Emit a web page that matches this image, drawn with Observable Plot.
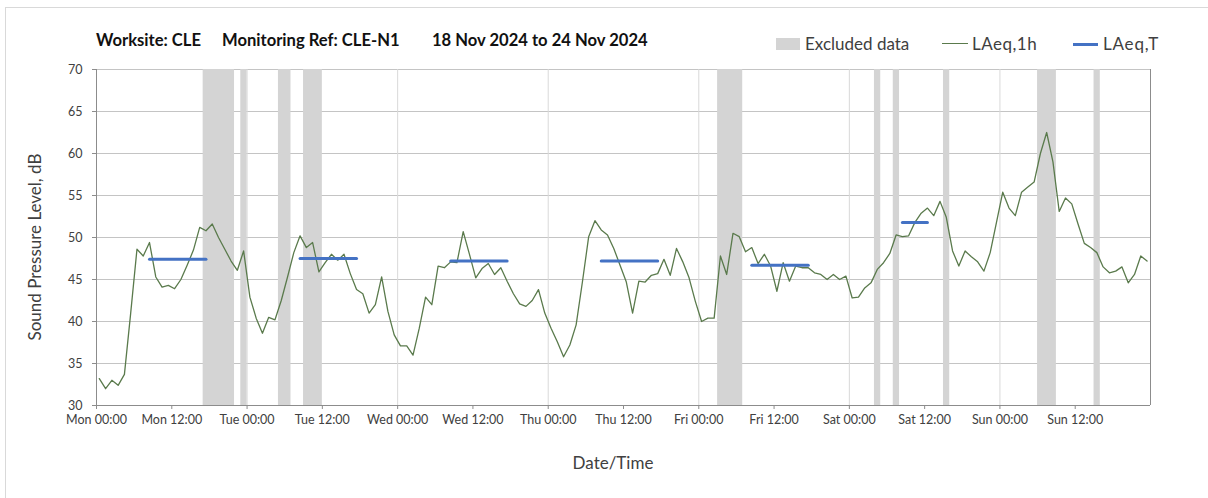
<!DOCTYPE html>
<html>
<head>
<meta charset="utf-8">
<script src="https://cdn.jsdelivr.net/npm/d3@7"></script>
<script src="https://cdn.jsdelivr.net/npm/@observablehq/plot@0.6"></script>
<style>
  body { margin: 0; background: #fff; font-family: Lato, "Open Sans", sans-serif; }
  #wrap { position: relative; width: 1208px; height: 498px; overflow: hidden; background: #fff; }
  #chart { position: absolute; left: 0; top: 0; }
  .abs { position: absolute; white-space: nowrap; color: #404040; }
  .title { font-weight: bold; font-size: 16.6px; line-height: 20px; top: 30px; color: #111; }
  .leg { font-size: 17px; line-height: 20px; top: 34px; }
  #frame { position: absolute; left: 5px; top: 7px; width: 1300px; height: 600px;
           border-left: 1px solid #d9d9d9; border-top: 1px solid #d9d9d9; pointer-events: none; z-index: 5; }
</style>
</head>
<body>
<div id="wrap">
  <div id="chart"></div>
  <div id="frame"></div>
  <div class="abs title" style="left:96px">Worksite: CLE</div>
  <div class="abs title" style="left:222px">Monitoring Ref: CLE-N1</div>
  <div class="abs title" style="left:432px">18 Nov 2024 to 24 Nov 2024</div>

  <div class="abs" style="left:776px;top:38px;width:24px;height:12px;background:#d4d4d4"></div>
  <div class="abs leg" style="left:805px">Excluded data</div>
  <div class="abs" style="left:942px;top:43px;width:26px;height:0;border-top:1.3px solid #5a7a4c"></div>
  <div class="abs leg" style="left:972px;letter-spacing:0.5px">LAeq,1h</div>
  <div class="abs" style="left:1073px;top:42.5px;width:25px;height:3px;background:#4472c4"></div>
  <div class="abs leg" style="left:1103px;letter-spacing:0.8px">LAeq,T</div>

  <div class="abs" style="left:0;top:453px;width:1226px;text-align:center;font-size:17px;line-height:20px">Date/Time</div>
  <div class="abs" style="left:35px;top:247px;font-size:17px;line-height:20px;transform:translate(-50%,-50%) rotate(-90deg)">Sound Pressure Level, dB</div>
</div>
<script>
// ---- data ----
const startTime = "2024-11-18T00:00:00Z";
const endTime = "2024-11-25T00:00:00Z";
const sampleOffsetMinutes = 27; // hourly points plotted inside each hour

// LAeq,1h values, one per hour from Mon 18 Nov 00:00
const laeq1h = [
  33.2, 32.0, 33.0, 32.4, 33.7, 41.0, 48.6, 47.8, 49.4, 45.3, 44.1, 44.3,
  43.9, 45.0, 46.7, 48.5, 51.2, 50.8, 51.6, 50.0, 48.6, 47.2, 46.1, 48.4,
  42.9, 40.4, 38.6, 40.5, 40.2, 42.5, 45.3, 48.2, 50.2, 48.8, 49.4, 45.9,
  47.0, 48.0, 47.3, 48.0, 45.7, 43.8, 43.3, 41.0, 42.0, 45.3, 41.2, 38.4,
  37.1, 37.1, 36.0, 39.2, 42.9, 42.0, 46.6, 46.4, 47.1, 47.0, 50.7, 48.0,
  45.2, 46.3, 46.9, 45.6, 46.4, 44.8, 43.3, 42.1, 41.8, 42.5, 43.8, 41.0,
  39.2, 37.6, 35.8, 37.2, 39.6, 44.7, 50.1, 52.0, 50.9, 50.3, 48.7, 46.7,
  44.7, 41.0, 44.8, 44.7, 45.5, 45.7, 47.4, 45.5, 48.7, 47.1, 45.2, 42.4,
  40.0, 40.4, 40.4, 47.8, 45.6, 50.5, 50.1, 48.3, 48.8, 46.9, 48.0, 46.6,
  43.6, 47.0, 44.8, 46.6, 46.4, 46.4, 45.8, 45.6, 45.0, 45.6, 45.0, 45.4,
  42.8, 42.9, 44.0, 44.6, 46.2, 47.0, 48.1, 50.3, 50.1, 50.2, 51.8, 52.9,
  53.5, 52.6, 54.3, 52.4, 48.4, 46.6, 48.4, 47.7, 47.1, 46.0, 48.2, 51.8,
  55.4, 53.5, 52.6, 55.4, 56.0, 56.6, 60.0, 62.5, 59.0, 53.1, 54.7, 54.0,
  51.6, 49.3, 48.8, 48.2, 46.5, 45.8, 46.0, 46.5, 44.6, 45.6, 47.8, 47.2
];

// Excluded data periods
const excludedFrom = [
  "2024-11-18T17:00Z", "2024-11-18T23:00Z", "2024-11-19T05:00Z", "2024-11-19T09:00Z",
  "2024-11-22T03:00Z", "2024-11-23T04:00Z", "2024-11-23T07:00Z", "2024-11-23T15:00Z",
  "2024-11-24T06:00Z", "2024-11-24T15:00Z"
];
const excludedTo = [
  "2024-11-18T22:00Z", "2024-11-19T00:00Z", "2024-11-19T07:00Z", "2024-11-19T12:00Z",
  "2024-11-22T07:00Z", "2024-11-23T05:00Z", "2024-11-23T08:00Z", "2024-11-23T16:00Z",
  "2024-11-24T09:00Z", "2024-11-24T16:00Z"
];

// LAeq,T periods
const laeqTFrom = [
  "2024-11-18T08:00Z", "2024-11-19T08:00Z", "2024-11-20T08:00Z",
  "2024-11-21T08:00Z", "2024-11-22T08:00Z", "2024-11-23T08:00Z"
];
const laeqTTo = [
  "2024-11-18T17:00Z", "2024-11-19T17:00Z", "2024-11-20T17:00Z",
  "2024-11-21T17:00Z", "2024-11-22T17:00Z", "2024-11-23T12:00Z"
];
const laeqTValue = [47.4, 47.5, 47.2, 47.2, 46.7, 51.8];

const yTicks = [30, 35, 40, 45, 50, 55, 60, 65, 70];
const tickFormat = "%a %H:%M";

// ---- build tables ----
const t0 = new Date(startTime);
const t1 = new Date(endTime);
const offsetMs = sampleOffsetMinutes * 60000;
const hourly = laeq1h.map((v, i) => ({ t: new Date(+d3.utcHour.offset(t0, i) + offsetMs), v }));
const excluded = excludedFrom.map((f, i) => ({ x1: new Date(f), x2: new Date(excludedTo[i]) }));
const laeqT = laeqTFrom.flatMap((f, i) => [
  { t: new Date(+new Date(f) + offsetMs), v: laeqTValue[i], k: i },
  { t: new Date(+new Date(laeqTTo[i]) + offsetMs), v: laeqTValue[i], k: i }
]);
const xTicks = d3.utcHour.every(12).range(t0, t1);           // labelled ticks
const dayLines = d3.utcDay.range(d3.utcDay.offset(t0, 1), d3.utcDay.offset(t1, 1));

const fmt = d3.utcFormat(tickFormat);

const chart = Plot.plot({
  width: 1208,
  height: 498,
  marginLeft: 96,
  marginRight: 58,
  marginTop: 69,
  marginBottom: 93,
  style: { fontFamily: "Lato, 'Open Sans', sans-serif", fontSize: "12.5px", color: "#404040", background: "transparent" },
  x: { type: "utc", domain: [t0, t1] },
  y: { domain: [30, 70] },
  marks: [
    Plot.gridY(yTicks.filter(d => d > 30), { stroke: "#c4c4c4", strokeOpacity: 1, strokeWidth: 1 }),
    Plot.gridX(dayLines, { stroke: "#d9d9d9", strokeOpacity: 1, strokeWidth: 1 }),
    Plot.rect(excluded, { x1: "x1", x2: "x2", y1: 30, y2: 70, fill: "#d4d4d4" }),
    Plot.ruleX([t1], { stroke: "#c4c4c4" }),
    Plot.ruleX([t0], { stroke: "#8c8c8c" }),
    Plot.ruleY([30], { stroke: "#8c8c8c" }),
    Plot.axisY(yTicks, { tickSize: 4, tickPadding: 10, stroke: "#8c8c8c", fill: "#404040", label: null, fontSize: 12.5 }),
    Plot.axisX(xTicks, { tickSize: 4, tickPadding: 6, stroke: "#8c8c8c", fill: "#404040", label: null, tickFormat: fmt, fontSize: 12.5 }),
    Plot.tickX([t1], { y1: 30, y2: 30, stroke: "#8c8c8c" }),
    Plot.line(hourly, { x: "t", y: "v", stroke: "#5a7a4c", strokeWidth: 1.3 }),
    Plot.line(laeqT, { x: "t", y: "v", z: "k", stroke: "#4472c4", strokeWidth: 3 })
  ]
});
document.getElementById("chart").appendChild(chart);
</script>
</body>
</html>
